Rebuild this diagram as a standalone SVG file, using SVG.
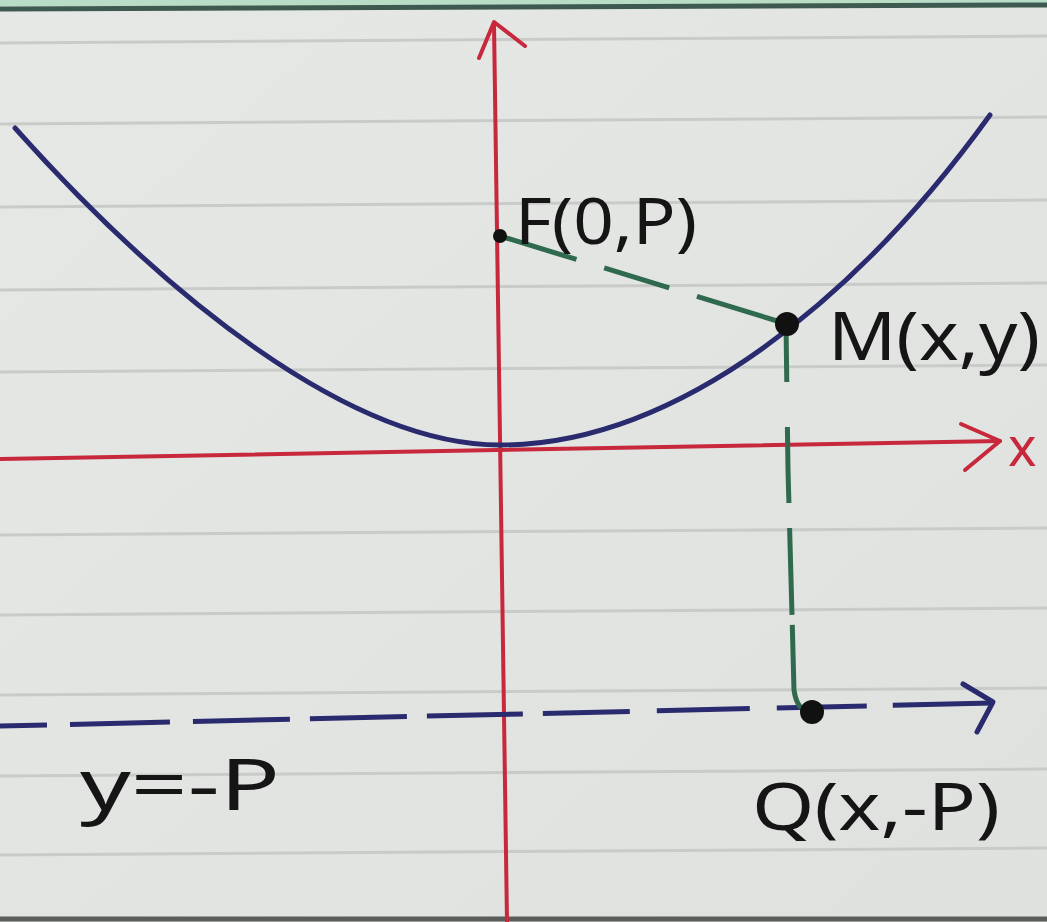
<svg xmlns="http://www.w3.org/2000/svg" width="1047" height="922" viewBox="0 0 1047 922">
  <style>
    .rule { stroke: #c9cbc9; stroke-width: 3; fill: none; }
    .lbl { font-family: "Noto Sans", "DejaVu Sans", sans-serif; fill: #151515; }
    .axis { stroke: #c8283c; stroke-width: 4; fill: none; stroke-linecap: round; stroke-linejoin: round; }
    .green { stroke: #2f6a4e; stroke-width: 5; fill: none; stroke-linecap: butt; }
    .navy { stroke: #2a2a6e; stroke-width: 5; fill: none; }
  </style>
  <defs>
    <linearGradient id="paper" x1="0" y1="0" x2="1" y2="1">
      <stop offset="0" stop-color="#e6e8e6"/>
      <stop offset="1" stop-color="#dfe1df"/>
    </linearGradient>
  </defs>
  <!-- paper -->
  <rect x="0" y="0" width="1047" height="922" fill="url(#paper)"/>
  <rect x="0" y="0" width="1047" height="6" fill="#b9dcc6"/>
  <line x1="0" y1="9" x2="1047" y2="5" stroke="#3e5a50" stroke-width="5"/>
  <line x1="0" y1="919" x2="1047" y2="919" stroke="#5a5e5a" stroke-width="5"/>
  <g id="ruling">
    <line class="rule" x1="0" y1="43" x2="1047" y2="36"/>
    <line class="rule" x1="0" y1="124" x2="1047" y2="117"/>
    <line class="rule" x1="0" y1="207" x2="1047" y2="200"/>
    <line class="rule" x1="0" y1="290" x2="1047" y2="283"/>
    <line class="rule" x1="0" y1="372" x2="1047" y2="365"/>
    <line class="rule" x1="0" y1="535" x2="1047" y2="528"/>
    <line class="rule" x1="0" y1="615" x2="1047" y2="608"/>
    <line class="rule" x1="0" y1="695" x2="1047" y2="688"/>
    <line class="rule" x1="0" y1="776" x2="1047" y2="769"/>
    <line class="rule" x1="0" y1="855" x2="1047" y2="848"/>
  </g>

  <!-- axes -->
  <g id="y-axis">
    <path class="axis" d="M507 922 L494 24"/>
    <path class="axis" d="M479 58 L494 22 L525 46"/>
  </g>
  <g id="x-axis">
    <path class="axis" d="M0 459 L1000 441"/>
    <path class="axis" d="M961 424 L1000 441 L965 470"/>
    <text class="lbl" x="1008" y="466" font-size="54" style="fill:#c8283c">x</text>
  </g>

  <!-- parabola -->
  <g id="parabola">
    <path class="navy" stroke-width="4" stroke-linecap="round" d="M15 128 C165 296 350 445 500 445 C680 445 860 295 990 115"/>
  </g>

  <!-- directrix -->
  <g id="directrix">
    <path class="navy" stroke-width="5.5" stroke-dasharray="47 23 100 23 97 20 97 20 96 20 87 27 93 27 90 26 100" d="M0 726 L992 703"/>
    <path class="navy" stroke-width="5" d="M963 684 L993 702 L977 732" stroke-linecap="round" stroke-linejoin="round"/>
    <text class="lbl" x="80" y="810" font-size="72" textLength="200" lengthAdjust="spacingAndGlyphs">y=-P</text>
  </g>

  <!-- connectors -->
  <g id="connectors">
    <path class="green" stroke-dasharray="80 29 68 29 110" d="M500 236 L787 324"/>
    <path class="green" stroke-dasharray="57 45 76 25 87 10 200" d="M786 325 L788 470 L792 615 L794 690 Q797 712 812 712"/>
  </g>

  <!-- points -->
  <g id="F">
    <circle cx="500" cy="236" r="7" fill="#111"/>
    <text class="lbl" x="515" y="244" font-size="64" textLength="182" lengthAdjust="spacingAndGlyphs">F(0,P)</text>
  </g>
  <g id="M">
    <circle cx="787" cy="324" r="12" fill="#111"/>
    <text class="lbl" x="828" y="360" font-size="68" textLength="212" lengthAdjust="spacingAndGlyphs">M(x,y)</text>
  </g>
  <g id="Q">
    <circle cx="812" cy="712" r="12" fill="#111"/>
    <text class="lbl" x="752" y="830" font-size="66" textLength="248" lengthAdjust="spacingAndGlyphs">Q(x,-P)</text>
  </g>
</svg>
